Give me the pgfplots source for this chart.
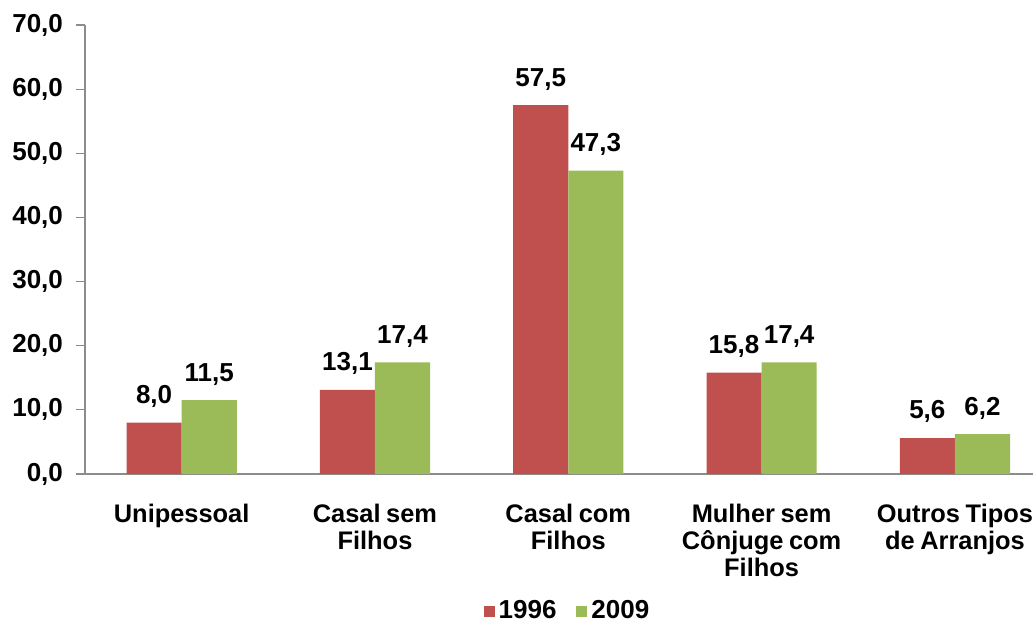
\documentclass[border=0pt]{standalone}
\usepackage{pgfplots}
\pgfplotsset{compat=1.18}
\usepackage{fontspec}
\setmainfont{Liberation Sans}

\definecolor{barred}{HTML}{C0504D}
\definecolor{bargreen}{HTML}{9BBB59}
\definecolor{axisgray}{HTML}{8C8C8C}

\newcommand{\lblfont}{\bfseries\fontsize{13}{13.4}\selectfont}
\newcommand{\catfont}{\bfseries\fontsize{12.7}{13.4}\selectfont\spaceskip=0.22em plus 0.1em}

\begin{document}
\begin{tikzpicture}
\path[use as bounding box] (0,0) rectangle (516.5pt,314pt);
\begin{axis}[
  at={(42.5pt,77pt)}, anchor=south west,
  scale only axis,
  width=474pt, height=224.5pt,
  ybar=0pt,
  bar width=0.285,
  xmin=-0.5, xmax=4.404,
  ymin=0, ymax=70,
  ytick={0,10,...,70},
  xtick={0,1,2,3,4},
  xticklabels={Unipessoal, {Casal sem\\Filhos}, {Casal com\\Filhos}, {Mulher sem\\Cônjuge com\\Filhos}, {Outros Tipos\\de Arranjos}},
  x tick style={draw=none},
  extra x ticks={-0.5,0.5,1.5,2.5,3.5},
  extra x tick labels={},
  extra x tick style={tick style={draw=axisgray, line width=0.6pt}, major tick length=3pt},
  axis x line*=bottom,
  axis y line*=left,
  axis line style={draw=axisgray, line width=0.6pt},
  y tick style={draw=axisgray, line width=0.6pt},
  tick align=outside,
  major tick length=4.5pt,
  /pgf/number format/.cd, fixed, fixed zerofill, precision=1, use comma, assume math mode=true,
  /pgfplots/.cd,
  yticklabel style={font=\lblfont, xshift=-3pt},
  xticklabel style={font=\catfont, align=center, yshift=-7pt},
  nodes near coords,
  every node near coord/.append style={font=\lblfont, yshift=4pt,
    /pgf/number format/.cd, fixed, fixed zerofill, precision=1, use comma, assume math mode=true},
  legend columns=2,
  legend style={draw=none, fill=none, font=\lblfont,
    at={(0.51,-0.305)}, anchor=center,
    /tikz/every even column/.append style={column sep=8pt}},
  legend image code/.code={\fill[#1] (0pt,-3pt) rectangle (5.5pt,2.5pt);},
]
\addplot[fill=barred, draw=none] coordinates {(0,8.0) (1,13.1) (2,57.5) (3,15.8) (4,5.6)};
\addplot[fill=bargreen, draw=none] coordinates {(0,11.5) (1,17.4) (2,47.3) (3,17.4) (4,6.2)};
\legend{1996, 2009}
\end{axis}
\end{tikzpicture}
\end{document}
